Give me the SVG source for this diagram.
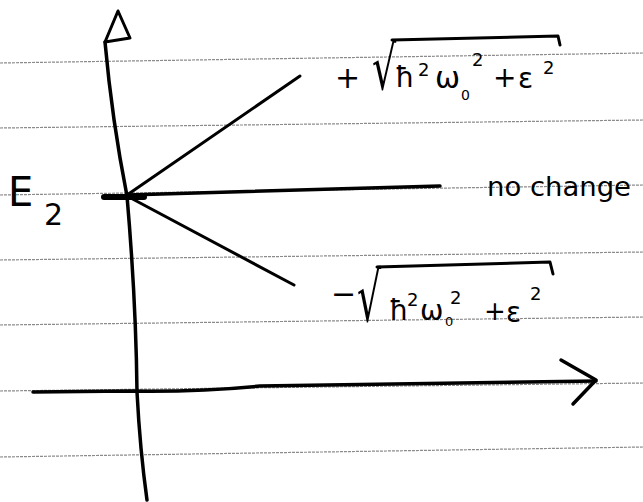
<svg xmlns="http://www.w3.org/2000/svg" width="643" height="502" viewBox="0 0 643 502">
<style>
.rule{stroke:#8a8a8a;stroke-width:1.2;fill:none;stroke-dasharray:3 1}
.ink{stroke:#000;fill:none;stroke-linecap:round;stroke-linejoin:round}
.t{font-family:"DejaVu Sans","Liberation Sans",sans-serif;fill:#000}
</style>
<rect width="643" height="502" fill="#fff"/>
<g id="ruled-lines">
<path class="rule" d="M0,63 L643,53"/>
<path class="rule" d="M0,128 L643,120"/>
<path class="rule" d="M0,195 L643,185"/>
<path class="rule" d="M0,260 L643,252"/>
<path class="rule" d="M0,325 L643,317"/>
<path class="rule" d="M0,391 L643,383"/>
<path class="rule" d="M0,457 L643,447"/>
</g>
<g id="axes">
<path class="ink" stroke-width="3.5" d="M105,42 Q112,120 127,196 Q136,300 137,392 Q140,450 147,500"/>
<path class="ink" stroke-width="3" d="M105,42 L118,11 L130,38 Z"/>
<path class="ink" stroke-width="3.5" d="M33,392 L130,391 Q200,392 260,386 L596,381"/>
<path class="ink" stroke-width="3.5" d="M561,360 L596,380 L573,404"/>
</g>
<g id="levels">
<path class="ink" stroke-width="6" d="M104,197 L144,197"/>
<path class="ink" stroke-width="3.5" d="M127,195 L440,186"/>
<path class="ink" stroke-width="3" d="M127,195 L300,76"/>
<path class="ink" stroke-width="3" d="M127,196 L294,285"/>
</g>
<g id="label-E2">
<text class="t" x="8" y="206" font-size="40">E</text>
<text class="t" x="44" y="225" font-size="30">2</text>
</g>
<g id="label-nochange">
<text class="t" x="487" y="196" font-size="26" textLength="144" lengthAdjust="spacingAndGlyphs">no change</text>
</g>
<g id="label-plus">
<text class="t" x="335" y="88" font-size="30">+</text>
<text class="t" transform="translate(372,89) scale(1,1.6)" x="0" y="0" font-size="38">√</text>
<path class="ink" stroke-width="3" d="M392,40 L558,36 L560,45"/>
<text class="t" x="395" y="87" font-size="28">ħ</text>
<text class="t" x="418" y="76" font-size="18">2</text>
<text class="t" x="435" y="88" font-size="30">ω</text>
<text class="t" x="461" y="100" font-size="14">0</text>
<text class="t" x="472" y="66" font-size="18">2</text>
<text class="t" x="493" y="87" font-size="28">+</text>
<text class="t" x="518" y="88" font-size="28">ε</text>
<text class="t" x="543" y="74" font-size="18">2</text>
</g>
<g id="label-minus">
<text class="t" x="331" y="304" font-size="30">−</text>
<text class="t" transform="translate(357,321) scale(1,1.8)" x="0" y="0" font-size="38">√</text>
<path class="ink" stroke-width="3" d="M377,267 L550,262 L553,274"/>
<text class="t" x="389" y="320" font-size="28">ħ</text>
<text class="t" x="407" y="306" font-size="18">2</text>
<text class="t" x="420" y="320" font-size="28">ω</text>
<text class="t" x="445" y="326" font-size="13">0</text>
<text class="t" x="450" y="304" font-size="18">2</text>
<text class="t" x="484" y="320" font-size="26">+</text>
<text class="t" x="506" y="322" font-size="28">ε</text>
<text class="t" x="530" y="300" font-size="18">2</text>
</g>
</svg>
